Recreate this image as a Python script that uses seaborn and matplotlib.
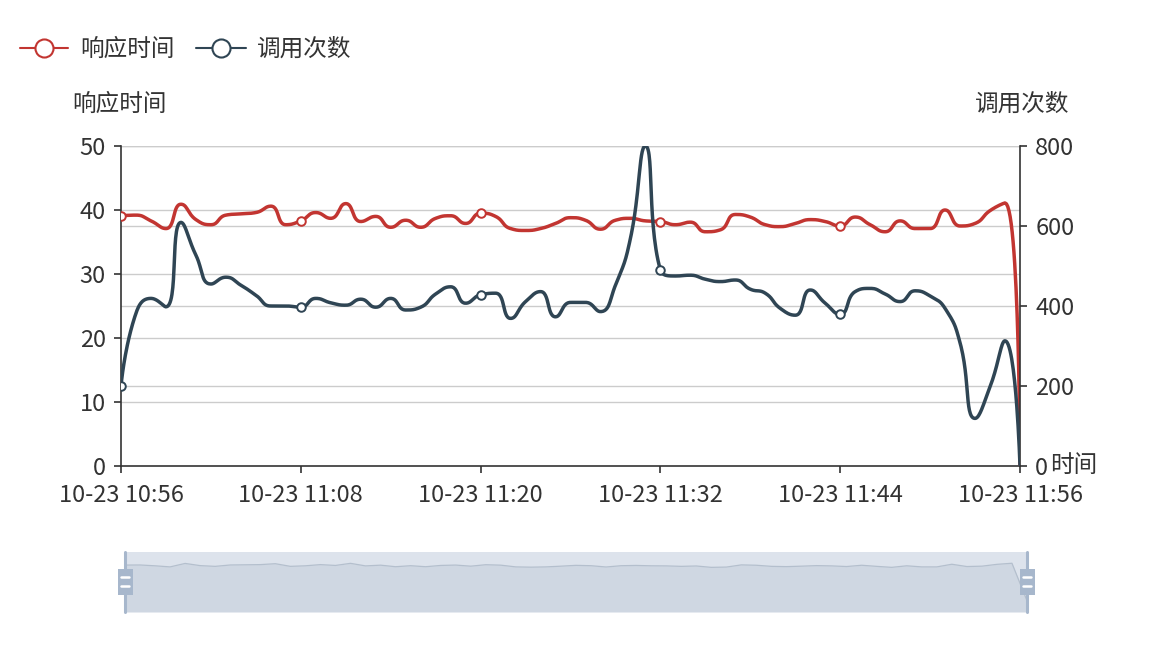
import numpy as np
import pandas as pd
import matplotlib
matplotlib.use("Agg")
import matplotlib.pyplot as plt
import seaborn as sns
from matplotlib.lines import Line2D
from matplotlib.patches import Rectangle

# ---------------- data ----------------
minutes = list(range(61))  # 10:56 ... 11:56, one point per minute
tick_minutes = [0, 12, 24, 36, 48, 60]
tick_labels = ["10-23 10:56", "10-23 11:08", "10-23 11:20",
               "10-23 11:32", "10-23 11:44", "10-23 11:56"]
symbol_minutes = [0, 12, 24, 36, 48]

resp_time = [39.1, 39.2, 38.3, 37.1, 40.9, 38.5, 37.7, 39.2, 39.4, 39.6, 40.6, 37.7,
             38.3, 39.6, 38.7, 41.0, 38.2, 39.0, 37.3, 38.4, 37.3, 38.7, 39.1, 37.9,
             39.5, 39.0, 37.1, 36.8, 37.1, 37.9, 38.8, 38.4, 37.0, 38.4, 38.7, 38.3,
             38.2, 37.7, 38.1, 36.6, 36.9, 39.3, 38.9, 37.7, 37.4, 37.9, 38.5, 38.2,
             37.5, 38.9, 37.7, 36.6, 38.3, 37.1, 37.1, 40.0, 37.5, 37.9, 39.9, 41.1, 0]

call_count = [200, 382, 419, 398, 609, 527, 455, 472, 452, 427, 400, 400,
              397, 419, 408, 402, 417, 397, 419, 390, 397, 430, 448, 407,
              428, 432, 369, 411, 436, 373, 409, 409, 386, 452, 569, 800,
              490, 475, 477, 467, 461, 465, 442, 432, 394, 377, 440, 407,
              379, 436, 444, 430, 411, 438, 425, 394, 308, 119, 198, 313, 0]

left_ticks = [0, 10, 20, 30, 40, 50]
right_ticks = [0, 200, 400, 600, 800]
series_names = ["响应时间", "调用次数"]
x_name = "时间"

RED = "#c23531"
BLUE = "#2f4554"
TXT = "#333333"
GRID = "#cccccc"

# ---------------- layout ----------------
W, H = 1150, 650
L, R, T, B = 121, 1020, 146, 466


def fx(px):
    return px / W


def fy(py):
    return 1 - py / H


sns.set_theme(style="white")
plt.rcParams["font.family"] = ["Noto Sans CJK SC", "DejaVu Sans"]
FS = 17

fig = plt.figure(figsize=(W / 100, H / 100), dpi=100)
ax = fig.add_axes([fx(L), fy(B), (R - L) / W, (B - T) / H])
ax_r = ax.twinx()


# ECharts-like smooth (bezier with clamped control points), computed in pixel space
def echarts_smooth(xs, ys, sx, sy, smooth=0.5, nseg=30):
    P = np.column_stack([np.asarray(xs, float) * sx, np.asarray(ys, float) * sy])
    n = len(P)
    out = [P[0]]
    cp0 = P[0].copy()
    prev = P[0]
    for i in range(1, n):
        x, y = P[i]
        px_, py_ = prev
        if i + 1 >= n:
            cp1 = np.array([x, y])
            nxt_cp0 = np.array([x, y])
        else:
            nx_, ny_ = P[i + 1]
            vx, vy = nx_ - px_, ny_ - py_
            lp = np.hypot(x - px_, y - py_)
            ln = np.hypot(nx_ - x, ny_ - y)
            ratio = ln / (ln + lp)
            ncx = x + vx * smooth * ratio
            ncy = y + vy * smooth * ratio
            ncx = min(ncx, max(nx_, x)); ncy = min(ncy, max(ny_, y))
            ncx = max(ncx, min(nx_, x)); ncy = max(ncy, min(ny_, y))
            vx, vy = ncx - x, ncy - y
            c1x = x - vx * lp / ln
            c1y = y - vy * lp / ln
            c1x = min(c1x, max(px_, x)); c1y = min(c1y, max(py_, y))
            c1x = max(c1x, min(px_, x)); c1y = max(c1y, min(py_, y))
            vx, vy = x - c1x, y - c1y
            ncx = x + vx * ln / lp
            ncy = y + vy * ln / lp
            cp1 = np.array([c1x, c1y])
            nxt_cp0 = np.array([ncx, ncy])
        t = np.linspace(0, 1, nseg)[1:, None]
        p0, p3 = np.array(prev), np.array([x, y])
        seg = ((1 - t) ** 3) * p0 + 3 * ((1 - t) ** 2) * t * cp0 + 3 * (1 - t) * t ** 2 * cp1 + t ** 3 * p3
        out.extend(seg)
        cp0 = nxt_cp0
        prev = P[i]
    out = np.array(out)
    return out[:, 0] / sx, out[:, 1] / sy


px_per_min = (R - L) / 60.0
rx, ry = echarts_smooth(minutes, resp_time, px_per_min, (B - T) / left_ticks[-1])
cx, cy = echarts_smooth(minutes, call_count, px_per_min, (B - T) / right_ticks[-1])

# grid lines (both axes' split lines), drawn on the bottom axes
for v in left_ticks[1:]:
    ax.axhline(v, color=GRID, lw=1.0, zorder=0)
for v in right_ticks[1:]:
    ax.axhline(v * left_ticks[-1] / right_ticks[-1], color=GRID, lw=1.0, zorder=0)

df_r = pd.DataFrame({"x": rx, "y": ry})
df_c = pd.DataFrame({"x": cx, "y": cy})
sns.lineplot(data=df_r, x="x", y="y", ax=ax, color=RED, lw=2.5, sort=False,
             estimator=None, zorder=3)
sns.lineplot(data=df_c, x="x", y="y", ax=ax_r, color=BLUE, lw=2.5, sort=False,
             estimator=None, zorder=3)

sym_r = pd.DataFrame({"x": symbol_minutes, "y": [resp_time[m] for m in symbol_minutes]})
sym_c = pd.DataFrame({"x": symbol_minutes, "y": [call_count[m] for m in symbol_minutes]})
sns.scatterplot(data=sym_r, x="x", y="y", ax=ax, s=38, color="white",
                edgecolor=RED, linewidth=1.4, zorder=4)
sns.scatterplot(data=sym_c, x="x", y="y", ax=ax_r, s=38, color="white",
                edgecolor=BLUE, linewidth=1.4, zorder=4)

ax.set_xlim(0, 60)
ax.set_ylim(0, left_ticks[-1])
ax_r.set_ylim(0, right_ticks[-1])
ax.set_xticks(tick_minutes)
ax.set_xticklabels(tick_labels)
ax.set_yticks(left_ticks)
ax_r.set_yticks(right_ticks)
for a in (ax, ax_r):
    a.set_xlabel("")
    a.set_ylabel("")
    a.grid(False)
    for s in a.spines.values():
        s.set_visible(False)
ax.spines["left"].set_visible(True)
ax.spines["bottom"].set_visible(True)
ax_r.spines["right"].set_visible(True)
for s in (ax.spines["left"], ax.spines["bottom"], ax_r.spines["right"]):
    s.set_color(TXT)
    s.set_linewidth(1.2)
ax.tick_params(axis="x", direction="out", length=5, width=1.2, color=TXT,
               labelsize=FS, labelcolor=TXT, pad=8, bottom=True)
ax.tick_params(axis="y", direction="out", length=5, width=1.2, color=TXT,
               labelsize=FS, labelcolor=TXT, pad=6, left=True)
ax_r.tick_params(axis="y", direction="out", length=5, width=1.2, color=TXT,
                 labelsize=FS, labelcolor=TXT, pad=6, right=True)
ax.patch.set_alpha(0)

# axis names
fig.text(fx(120), fy(104), series_names[0], ha="center", va="center",
         fontsize=FS, color=TXT)
fig.text(fx(1022), fy(104), series_names[1], ha="center", va="center",
         fontsize=FS, color=TXT)
fig.text(fx(1050), fy(466), x_name, ha="left", va="center",
         fontsize=FS, color=TXT)

# legend
for (x0, x1, tx), col, name in zip([(20, 68, 80), (196, 246, 257)], [RED, BLUE], series_names):
    fig.add_artist(Line2D([fx(x0), fx(x1)], [fy(48), fy(48)], color=col, lw=1.5,
                          transform=fig.transFigure))
    fig.add_artist(Line2D([fx((x0 + x1) / 2)], [fy(48)], marker="o", markersize=13,
                          markerfacecolor="white", markeredgecolor=col,
                          markeredgewidth=1.5, transform=fig.transFigure))
    fig.text(fx(tx), fy(49), name, ha="left", va="center", fontsize=FS, color=TXT)

# data zoom slider
SL, SR, ST, SB = 125, 1027, 552, 612
ax_s = fig.add_axes([fx(SL), fy(SB), (SR - SL) / W, (SB - ST) / H])
lo, hi = min(resp_time), max(resp_time)
off = (hi - lo) * 0.3
ax_s.set_xlim(0, 60)
ax_s.set_ylim(lo - off, hi + off)
ax_s.set_facecolor("#dde3ec")
ax_s.fill_between(minutes, resp_time, lo - off, color="#cfd7e2", lw=0)
sns.lineplot(x=minutes, y=resp_time, ax=ax_s, color="#b4bfcd", lw=0.9)
ax_s.set_xticks([])
ax_s.set_yticks([])
ax_s.set_xlabel("")
ax_s.set_ylabel("")
for s in ax_s.spines.values():
    s.set_visible(False)

for hx in (SL, SR):
    fig.add_artist(Line2D([fx(hx), fx(hx)], [fy(ST), fy(SB)], color="#a7b7cc", lw=2.2,
                          transform=fig.transFigure))
    fig.add_artist(Rectangle((fx(hx - 7.5), fy(595)), 15 / W, 26 / H, facecolor="#a7b7cc",
                             edgecolor="none", transform=fig.transFigure))
    for dy in (577, 586):
        fig.add_artist(Line2D([fx(hx - 4), fx(hx + 4)], [fy(dy), fy(dy)], color="white",
                              lw=1.8, transform=fig.transFigure))

fig.savefig("out.png", dpi=100)
